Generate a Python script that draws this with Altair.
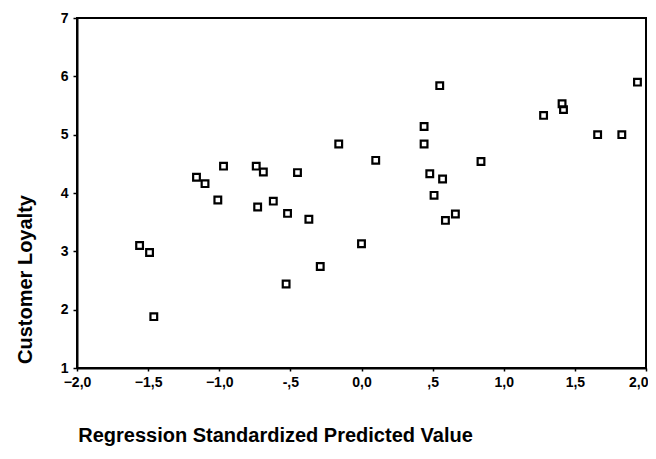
import altair as alt
import pandas as pd

# Regression standardized predicted value (x) vs Customer Loyalty (y)
pred_values = [
    -0.16, 0.10, -0.97, -1.16, -1.10, -0.74, -0.69, -0.45, -1.01, -0.73,
    -0.62, -0.52, -0.37, -1.56, -1.49, 0.00, -0.29, -0.53, -1.46,
    0.55, 0.44, 0.44, 0.84, 0.48, 0.57, 0.51, 0.66, 0.59,
    1.28, 1.41, 1.42, 1.66, 1.83, 1.94,
]
loyalty = [
    4.84, 4.56, 4.46, 4.27, 4.16, 4.46, 4.36, 4.35, 3.88, 3.76,
    3.86, 3.65, 3.55, 3.10, 2.98, 3.13, 2.74, 2.44, 1.88,
    5.84, 5.14, 4.84, 4.54, 4.33, 4.24, 3.96, 3.64, 3.53,
    5.33, 5.53, 5.43, 5.00, 5.00, 5.90,
]
x_ticks = [-2.0, -1.5, -1.0, -0.5, 0.0, 0.5, 1.0, 1.5, 2.0]
y_ticks = [1, 2, 3, 4, 5, 6, 7]

df = pd.DataFrame({"pred": pred_values, "loyalty": loyalty})

FONT = "Liberation Sans"

x_label_expr = (
    "datum.value == 0.5 ? ',5' : datum.value == -0.5 ? '-,5' : "
    "replace(format(datum.value, '.1f'), '.', ',')"
)

chart = (
    alt.Chart(df)
    .mark_point(shape="square", filled=False, color="black", strokeWidth=2.2, size=45, opacity=1)
    .encode(
        x=alt.X(
            "pred:Q",
            scale=alt.Scale(domain=[-2, 2], nice=False, zero=False),
            axis=alt.Axis(
                title="Regression Standardized Predicted Value",
                values=x_ticks,
                labelExpr=x_label_expr,
                labelFlush=False,
                labelOverlap=False,
                labelAlign={"condition": {"test": "datum.value >= 2", "value": "right"}, "value": "center"},
                labelOffset={"condition": {"test": "datum.value >= 2", "value": 2}, "value": 0},
                grid=False,
                domainColor="black",
                domainWidth=2,
                tickColor="black",
                tickSize=3,
                tickWidth=1.5,
                labelFont=FONT,
                labelFontSize=14,
                labelFontWeight="bold",
                labelColor="black",
                labelPadding=4,
                titleFont=FONT,
                titleFontSize=20,
                titleFontWeight="bold",
                titleColor="black",
                titleX=198,
                titleY=67,
                titleAlign="center",
                titleBaseline="middle",
            ),
        ),
        y=alt.Y(
            "loyalty:Q",
            scale=alt.Scale(domain=[1, 7], nice=False, zero=False),
            axis=alt.Axis(
                title="Customer Loyalty",
                values=y_ticks,
                format="d",
                labelFlush=False,
                labelOverlap=False,
                grid=False,
                domainColor="black",
                domainWidth=2,
                tickColor="black",
                tickSize=4,
                tickWidth=1.5,
                labelFont=FONT,
                labelFontSize=14,
                labelFontWeight="bold",
                labelColor="black",
                labelPadding=5,
                titleFont=FONT,
                titleFontSize=20,
                titleFontWeight="bold",
                titleColor="black",
                titleAngle=-90,
                titleX=-52,
                titleY=261,
                titleAlign="center",
                titleBaseline="middle",
            ),
        ),
    )
    .properties(
        width=569,
        height=350,
        autosize=alt.AutoSizeParams(type="none"),
        padding={"left": 69, "top": 10, "right": 2, "bottom": 80},
        background="white",
    )
    .configure_view(stroke="black", strokeWidth=2)
)

chart.save("out.html", embed_options={"renderer": "svg", "actions": False})
